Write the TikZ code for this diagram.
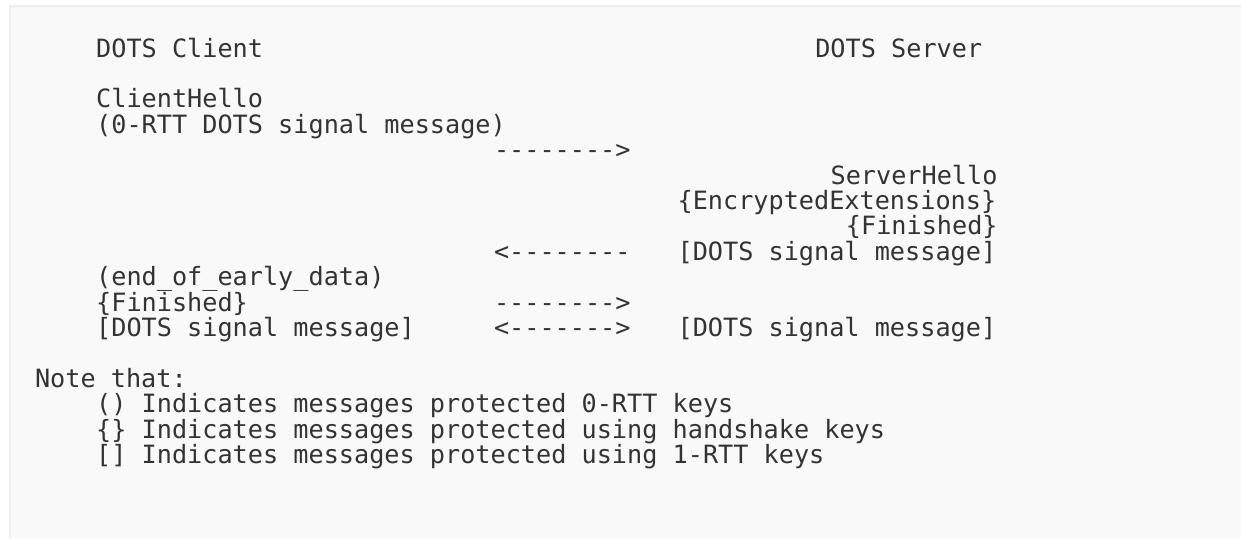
\documentclass[tikz,border=0pt]{standalone}
\usepackage{fontspec}
\setmonofont{DejaVu Sans Mono}
\definecolor{pagebg}{HTML}{F9F9F9}
\definecolor{framecol}{HTML}{EEEEEE}
\definecolor{txtcol}{HTML}{333333}
\begin{document}
\begin{tikzpicture}[x=1pt,y=-1pt,
  txt/.style={anchor=base west,inner sep=0pt,outer sep=0pt,text=txtcol,
    font=\ttfamily\fontsize{25.2}{25.4}\selectfont}]
\def\cw{15.3}
\def\xo{35}
\def\yo{57}
\def\lh{25.4}
\useasboundingbox (0,0) rectangle (1241,538);
\fill[white] (0,0) rectangle (1241,538);
\fill[framecol] (9,5) rectangle (1241,538);
\fill[pagebg] (11,7) rectangle (1241,538);
% row 0
\node[txt] (client) at ({\xo+4*\cw},{\yo+0*\lh}) {DOTS Client};
\node[txt] (server) at ({\xo+51*\cw},{\yo+0*\lh}) {DOTS Server};
% row 2-3
\node[txt] (chello) at ({\xo+4*\cw},{\yo+2*\lh}) {ClientHello};
\node[txt] (zrtt) at ({\xo+4*\cw},{\yo+3*\lh}) {(0-RTT DOTS signal message)};
% row 4
\node[txt] (a1) at ({\xo+30*\cw},{\yo+4*\lh}) {-------->};
% rows 5-7
\node[txt] (shello) at ({\xo+52*\cw},{\yo+5*\lh}) {ServerHello};
\node[txt] (encext) at ({\xo+42*\cw},{\yo+6*\lh}) {\{EncryptedExtensions\}};
\node[txt] (sfin) at ({\xo+53*\cw},{\yo+7*\lh}) {\{Finished\}};
% row 8
\node[txt] (a2) at ({\xo+30*\cw},{\yo+8*\lh}) {<--------};
\node[txt] (smsg1) at ({\xo+42*\cw},{\yo+8*\lh}) {[DOTS signal message]};
% rows 9-11
\node[txt] (eoed) at ({\xo+4*\cw},{\yo+9*\lh}) {(end\_of\_early\_data)};
\node[txt] (cfin) at ({\xo+4*\cw},{\yo+10*\lh}) {\{Finished\}};
\node[txt] (a3) at ({\xo+30*\cw},{\yo+10*\lh}) {-------->};
\node[txt] (cmsg) at ({\xo+4*\cw},{\yo+11*\lh}) {[DOTS signal message]};
\node[txt] (a4) at ({\xo+30*\cw},{\yo+11*\lh}) {<------->};
\node[txt] (smsg2) at ({\xo+42*\cw},{\yo+11*\lh}) {[DOTS signal message]};
% notes
\node[txt] (note) at ({\xo+0*\cw},{\yo+13*\lh}) {Note that:};
\node[txt] (n1) at ({\xo+4*\cw},{\yo+14*\lh}) {() Indicates messages protected 0-RTT keys};
\node[txt] (n2) at ({\xo+4*\cw},{\yo+15*\lh}) {\{\} Indicates messages protected using handshake keys};
\node[txt] (n3) at ({\xo+4*\cw},{\yo+16*\lh}) {[] Indicates messages protected using 1-RTT keys};
\end{tikzpicture}
\end{document}
